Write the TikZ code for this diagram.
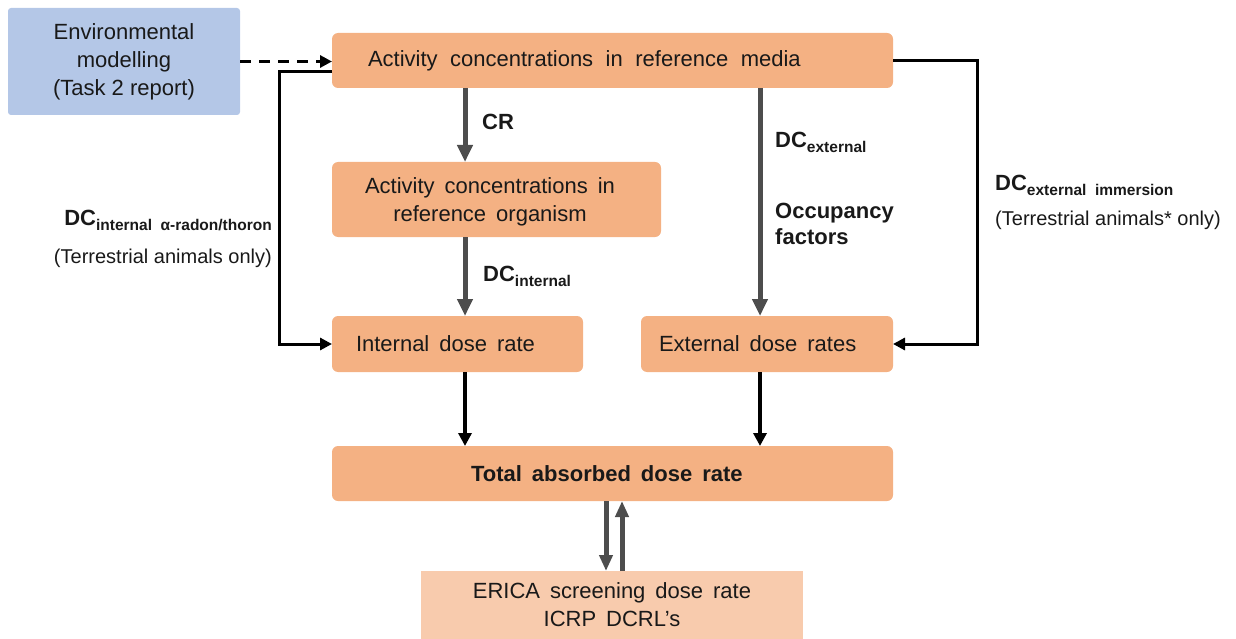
\documentclass[tikz,border=0pt]{standalone}
\usepackage{fontspec}
\setmainfont{Liberation Sans}
\usetikzlibrary{arrows.meta,calc}
\definecolor{boxor}{HTML}{F4B183}
\definecolor{boxlt}{HTML}{F8CBAD}
\definecolor{boxbl}{HTML}{B4C7E7}
\definecolor{garr}{HTML}{4D4D4D}
\tikzset{
  x=1pt, y=-1pt,
  every node/.style={font=\fontsize{22}{28}\selectfont, text=black!90},
  wide/.style={execute at begin node={\spaceskip=10pt plus 1pt\relax}},
  obox/.style={fill=boxor, draw=none, rounded corners=6pt, inner sep=0pt, outer sep=0pt, wide},
  bbox/.style={fill=boxbl, draw=none, rounded corners=3pt, inner sep=0pt, outer sep=0pt, align=center},
  lbox/.style={fill=boxlt, draw=none, inner sep=0pt, outer sep=0pt, align=center, wide},
  garrow/.style={draw=garr, line width=5pt, -{Triangle[width=15pt,length=17pt]}},
  karrow/.style={draw=black, line width=3pt, -{Triangle[width=12pt,length=12pt]}},
  kbarrow/.style={draw=black, line width=4pt, -{Triangle[width=13pt,length=13pt]}},
  lbl/.style={font=\fontsize{22}{26}\selectfont\bfseries, inner sep=0pt, align=left},
  note/.style={font=\fontsize{20}{24}\selectfont, inner sep=0pt},
}
\newcommand{\subx}[1]{\raisebox{-5pt}{\fontsize{15.5}{15.5}\selectfont #1}}
\begin{document}
\begin{tikzpicture}
\useasboundingbox (0,0) rectangle (1236,639);
% boxes
\node[bbox, minimum width=232pt, minimum height=107pt] (env) at (124,61.5)
  {Environmental\\modelling\\(Task 2 report)};
\node[obox, minimum width=561pt, minimum height=55pt, inner xsep=36pt, text width=489pt, align=left, execute at begin node={\spaceskip=12.5pt plus 1pt\relax}] (media) at (612.5,60.5)
  {Activity concentrations in reference media};
\node[obox, minimum width=329pt, minimum height=75pt, text width=329pt, align=center] (org) at (496.5,199.5) {};
\node[font=\fontsize{22}{28}\selectfont, wide, align=center, inner sep=0pt] (orgtxt) at (490,202)
  {Activity concentrations in\\reference organism};
\node[obox, minimum width=251pt, minimum height=56pt, inner xsep=24pt, text width=203pt, align=left] (int) at (457.5,344)
  {Internal dose rate};
\node[obox, minimum width=252pt, minimum height=56pt, inner xsep=18pt, text width=216pt, align=left] (ext) at (767,344)
  {External dose rates};
\node[obox, minimum width=561pt, minimum height=55pt, inner xsep=139pt, text width=283pt, align=left, font=\fontsize{22}{28}\selectfont\bfseries] (tot) at (612.5,473.5)
  {Total absorbed dose rate};
\node[lbox, minimum width=382pt, minimum height=68pt] (erica) at (612,605)
  {ERICA screening dose rate\\ICRP DCRL's};

% x positions
\coordinate (xa) at (465,0);
\coordinate (xb) at (760,0);
\coordinate (xl) at (279,0);
\coordinate (xr) at (977,0);
\coordinate (xd) at (606,0);
\coordinate (xu) at (622,0);
\coordinate (ya) at (0,72);

% dashed arrow
\draw[draw=black, line width=3pt, dash pattern=on 11pt off 8pt, -{Triangle[width=12pt,length=12pt]}] (env.east) -- (media.west |- env.east);

% gray arrows
\draw[garrow] (media.south -| xa) -- (org.north -| xa);
\draw[garrow] (org.south -| xa) -- (int.north -| xa);
\draw[garrow] (media.south -| xb) -- (ext.north -| xb);

% black loops
\draw[karrow] (media.west |- ya) -| (xl |- int.west) -- (int.west);
\draw[karrow] (media.east) -| (xr |- ext.east) -- (ext.east);

% black arrows to total
\draw[kbarrow] (int.south -| xa) -- (tot.north -| xa);
\draw[kbarrow] (ext.south -| xb) -- (tot.north -| xb);

% total <-> erica
\draw[draw=garr, line width=5pt, -{Triangle[width=13pt,length=16pt]}] (tot.south -| xd) -- (erica.north -| xd);
\draw[draw=garr, line width=5pt, -{Triangle[width=13pt,length=16pt]}] (erica.north -| xu) -- (tot.south -| xu);

% labels
\node[lbl, anchor=west] (lcr) at (482,122) {CR};
\node[lbl, anchor=west] (ldci) at (483,276) {DC\subx{internal}};
\node[lbl, anchor=west] (ldce) at (775,142) {DC\subx{external}};
\node[lbl, anchor=west] (locc) at (775,224) {Occupancy\\factors};
\node[lbl, anchor=west] (ldcim) at (995,185) {DC\subx{external\ \ immersion}};
\node[note, anchor=west] (lnr) at (995,220) {(Terrestrial animals* only)};
\node[lbl, anchor=east] (ldcr) at (272,220) {DC\subx{internal\ \ α-radon/thoron}};
\node[note, anchor=east] (lnl) at (272,258) {(Terrestrial animals only)};
\end{tikzpicture}
\end{document}
